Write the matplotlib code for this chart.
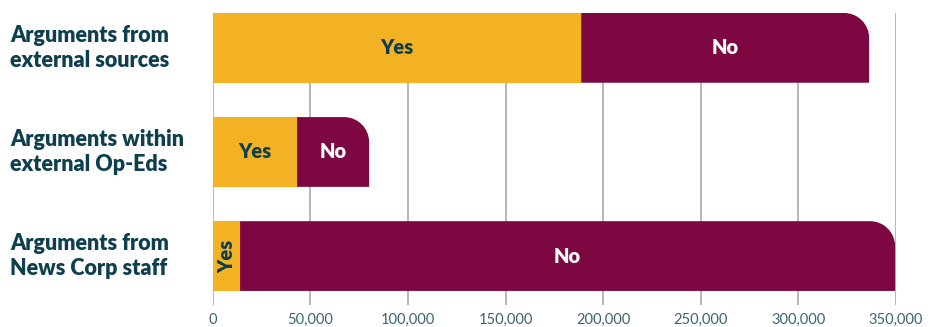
import numpy as np
import matplotlib.pyplot as plt
from matplotlib.path import Path
from matplotlib.patches import PathPatch
from matplotlib.transforms import blended_transform_factory

plt.rcParams['font.family'] = ['Lato', 'DejaVu Sans']

categories = ["Arguments from\nexternal sources",
              "Arguments within\nexternal Op-Eds",
              "Arguments from\nNews Corp staff"]
yes_vals = [188700, 43200, 14000]
no_vals = [147500, 36900, 335500]
xticks = [0, 50000, 100000, 150000, 200000, 250000, 300000, 350000]

YELLOW = "#F2B224"
MAROON = "#7D0741"
NAVY = "#0E3F4E"

fig = plt.figure(figsize=(9.38, 3.27), dpi=100)
ax = fig.add_axes([0.2268, 0.0673, 0.7285, 0.8930])

y = np.arange(len(categories))
bar_h = 0.67
ax.barh(y, yes_vals, height=bar_h, color=YELLOW, zorder=2)
no_bars = ax.barh(y, no_vals, left=yes_vals, height=bar_h, color=MAROON, zorder=2)

ax.set_xlim(0, 350000)
ax.set_ylim(2.47, -0.335)

# round only the top-right corner of each bar (radius given in pixels)
fig.canvas.draw()
r_px = 25
x_per_px = 350000 / (ax.bbox.width)
y_per_px = (2.47 + 0.335) / (ax.bbox.height)
rx, ry = r_px * x_per_px, r_px * y_per_px
k = 0.5523
for rect in no_bars:
    x0, w = rect.get_x(), rect.get_width()
    y0, h = rect.get_y(), rect.get_height()
    x1 = x0 + w
    top = y0  # inverted y axis: smaller y is drawn on top
    bot = y0 + h
    verts = [(x0, bot), (x0, top), (x1 - rx, top),
             (x1 - rx + k * rx, top), (x1, top + ry - k * ry), (x1, top + ry),
             (x1, bot), (x0, bot)]
    codes = [Path.MOVETO, Path.LINETO, Path.LINETO,
             Path.CURVE4, Path.CURVE4, Path.CURVE4,
             Path.LINETO, Path.CLOSEPOLY]
    ax.add_patch(PathPatch(Path(verts, codes), facecolor=MAROON,
                           edgecolor="none", zorder=2))
    rect.set_visible(False)

# labels inside the bars
for i in range(len(categories)):
    yx = yes_vals[i] / 2
    nx = yes_vals[i] + no_vals[i] / 2
    rot = 90 if yes_vals[i] < 20000 else 0
    ax.text(yx, i, "Yes", rotation=rot, ha="center", va="center",
            color=NAVY, fontsize=14.5, fontweight="heavy", zorder=3)
    ax.text(nx, i, "No", ha="center", va="center",
            color="white", fontsize=14.5, fontweight="heavy", zorder=3)

# category labels on the left edge of the figure
trans = blended_transform_factory(fig.transFigure, ax.transData)
for i, cat in enumerate(categories):
    ax.text(10 / 938, i, cat, transform=trans, ha="left", va="center",
            color=NAVY, fontsize=15.5, fontweight="heavy", linespacing=1.2)

ax.set_yticks([])
ax.set_xticks(xticks)
ax.set_xticklabels([f"{v:,}" for v in xticks])
ax.tick_params(axis="x", length=0, pad=6, labelsize=10.5, labelcolor="#3A6472")
ax.grid(axis="x", color="#AAAAAA", linewidth=1.2, zorder=0)
ax.set_axisbelow(True)
for s in ax.spines.values():
    s.set_visible(False)

fig.savefig("out.png", dpi=100)
